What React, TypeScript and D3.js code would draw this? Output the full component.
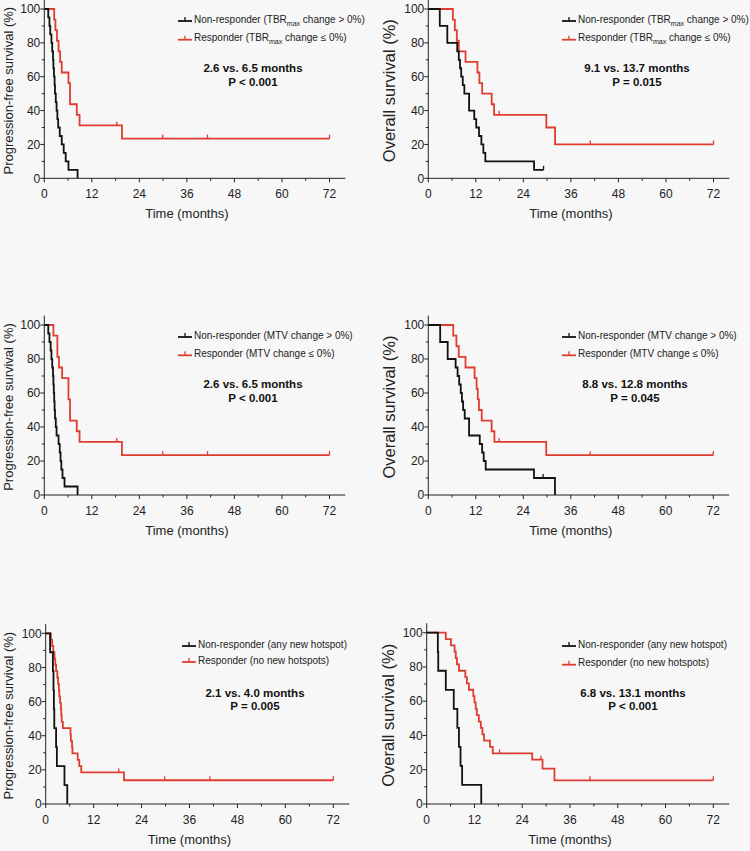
import { scaleLinear, line, curveStepAfter } from 'd3';

// Kaplan-Meier steps: [time in months, survival % after the event]
const pfsTbrNon = [[1.0,95],[1.3,90],[1.5,85],[1.8,80],[2.0,75],[2.2,70],[2.3,65],[2.45,60],[2.6,55],[2.7,50],[2.9,45],[3.1,40],[3.3,35],[3.5,30],[3.9,25],[4.4,20],[4.9,15],[5.4,10],[6.1,5],[8.4,0]];
const pfsTbrResp = [[2.5,93.75],[2.8,87.5],[3.2,81.25],[3.6,75],[4.0,68.75],[4.4,62.5],[6.1,56.25],[6.5,43.75],[8.2,37.5],[8.9,31.25],[19.6,23.44]];
const pfsTbrRespCensor = [18.3, 29.9, 41.2, 72];

const osTbrNon = [[2.9,90],[4.8,80],[7.3,75],[7.7,70],[8.0,65],[8.3,60],[8.7,55],[9.1,50],[10.3,40],[11.6,35],[12.1,30],[12.8,25],[13.4,20],[13.9,15],[14.4,10],[26.7,5]];
const osTbrNonCensor = [29.1];
const osTbrResp = [[6.2,93.75],[6.7,87.5],[7.2,81.25],[7.7,75],[9.4,68.75],[12.4,62.5],[12.9,56.25],[13.6,50],[16.0,43.75],[16.6,37.5],[29.8,30],[32.0,20]];
const osTbrRespCensor = [17.9, 40.9, 72];

const pfsMtvNon = [[1.0,95],[1.3,90],[1.6,85],[1.8,80],[2.0,75],[2.2,70],[2.3,65],[2.4,60],[2.5,55],[2.6,50],[2.7,45],[2.9,40],[3.1,35],[3.6,30],[3.9,25],[4.1,20],[4.3,15],[4.6,10],[5.1,5],[8.4,0]];
const pfsMtvResp = [[2.3,93.75],[3.3,81.25],[3.7,75],[4.5,68.75],[6.1,56.25],[6.5,43.75],[8.2,37.5],[8.9,31.25],[19.6,23.44]];
const pfsMtvRespCensor = [18.3, 29.9, 41.2, 72];

const osMtvNon = [[3.0,90],[4.9,80],[6.9,75],[7.4,70],[7.8,65],[8.2,60],[8.5,55],[8.8,50],[9.2,45],[10.3,35],[13.0,30],[13.6,25],[14.0,20],[14.5,15],[26.7,10],[32.0,0]];
const osMtvNonCensor = [29.0];
const osMtvResp = [[6.3,93.75],[7.1,87.5],[7.7,81.25],[9.4,75],[11.7,68.75],[12.2,62.5],[12.5,56.25],[12.8,50],[13.5,43.75],[16.0,37.5],[16.7,31.25],[29.8,23.44]];
const osMtvRespCensor = [17.9, 40.9, 72];

const pfsHotNon = [[1.1,88.89],[1.8,77.78],[1.95,66.67],[2.05,55.56],[2.15,44.44],[2.6,33.33],[2.8,22.22],[4.7,11.11],[5.4,0]];
const pfsHotResp = [[1.3,96.3],[1.6,92.6],[1.9,88.9],[2.2,85.2],[2.4,81.5],[2.6,77.8],[2.9,74.1],[3.1,70.4],[3.3,66.7],[3.4,63],[3.6,59.3],[3.8,55.6],[3.9,51.9],[4.0,48.1],[4.3,44.4],[6.2,40.7],[6.3,37.0],[6.6,33.3],[6.7,29.6],[8.0,25.9],[8.4,22.2],[8.9,18.5],[19.6,13.9]];
const pfsHotRespCensor = [18.3, 29.8, 41.1, 72];

const osHotNon = [[2.8,88.89],[2.9,77.78],[4.8,66.67],[6.8,55.56],[7.7,44.44],[8.1,33.33],[8.5,22.22],[8.9,11.11],[13.7,0]];
const osHotResp = [[4.8,96.3],[6.1,92.6],[7.0,88.9],[7.3,85.2],[7.6,81.5],[8.1,77.8],[9.7,74.1],[10.1,70.4],[10.6,66.7],[11.7,63.0],[12.0,59.3],[12.3,55.6],[12.6,51.9],[13.1,48.1],[13.6,44.4],[14.0,40.7],[14.4,37.0],[15.9,33.3],[16.6,29.6],[26.5,25.9],[29.1,20.7],[32.1,13.8]];
const osHotRespCensor = [18.3, 28.7, 41, 72];

const xMajor = [0, 12, 24, 36, 48, 60, 72];
const xMinor = [6, 18, 30, 42, 54, 66];
const yMajor = [0, 20, 40, 60, 80, 100];
const yMinor = [10, 30, 50, 70, 90];

const yTitles = ['Progression-free survival (%)', 'Overall survival (%)'];
const legendTbr = [['Non-responder (TBR', 'max', ' change > 0%)'], ['Responder (TBR', 'max', ' change ≤ 0%)']];
const legendMtv = [['Non-responder (MTV change > 0%)'], ['Responder (MTV change ≤ 0%)']];
const legendHot = [['Non-responder (any new hotspot)'], ['Responder (no new hotspots)']];
const notes = [
  ['2.6 vs. 6.5 months', 'P < 0.001'],
  ['9.1 vs. 13.7 months', 'P = 0.015'],
  ['2.6 vs. 6.5 months', 'P < 0.001'],
  ['8.8 vs. 12.8 months', 'P = 0.045'],
  ['2.1 vs. 4.0 months', 'P = 0.005'],
  ['6.8 vs. 13.1 months', 'P < 0.001'],
];

const RED = '#e03c31';
const BLACK = '#111';
const FONT = '"Liberation Sans", Arial, Helvetica, sans-serif';

// layout of each panel (pixels)
const layout = [
  { x0: 44.3, x72: 329.5, yTop: 9, yBot: 178.3, titleX: 8, titleSize: 13, legX: 178, legY: [19, 37.7], noteX: 253, noteY: 68 },
  { x0: 428.3, x72: 713.5, yTop: 9, yBot: 178.3, titleX: 389, titleSize: 16.5, legX: 562, legY: [19, 37.7], noteX: 637, noteY: 68 },
  { x0: 44.3, x72: 329.5, yTop: 325, yBot: 495, titleX: 8, titleSize: 13, legX: 178, legY: [335, 353.3], noteX: 253, noteY: 384 },
  { x0: 428.3, x72: 713.3, yTop: 325, yBot: 495, titleX: 389, titleSize: 16.5, legX: 562, legY: [335, 353.3], noteX: 635, noteY: 384 },
  { x0: 45.7, x72: 333.3, yTop: 633.3, yBot: 804, titleX: 8, titleSize: 13, legX: 182, legY: [644, 660], noteX: 255, noteY: 692.7 },
  { x0: 426.7, x72: 713.3, yTop: 632.7, yBot: 804, titleX: 388, titleSize: 16.5, legX: 562, legY: [644, 662.7], noteX: 633, noteY: 692.7 },
];

type Step = number[];
interface Curve { steps: Step[]; censor: number[]; color: string }

const panels = [
  { title: yTitles[0], legend: legendTbr, note: notes[0], curves: [
    { steps: pfsTbrResp, censor: pfsTbrRespCensor, color: RED },
    { steps: pfsTbrNon, censor: [], color: BLACK }] },
  { title: yTitles[1], legend: legendTbr, note: notes[1], curves: [
    { steps: osTbrResp, censor: osTbrRespCensor, color: RED },
    { steps: osTbrNon, censor: osTbrNonCensor, color: BLACK }] },
  { title: yTitles[0], legend: legendMtv, note: notes[2], curves: [
    { steps: pfsMtvResp, censor: pfsMtvRespCensor, color: RED },
    { steps: pfsMtvNon, censor: [], color: BLACK }] },
  { title: yTitles[1], legend: legendMtv, note: notes[3], curves: [
    { steps: osMtvResp, censor: osMtvRespCensor, color: RED },
    { steps: osMtvNon, censor: osMtvNonCensor, color: BLACK }] },
  { title: yTitles[0], legend: legendHot, note: notes[4], curves: [
    { steps: pfsHotResp, censor: pfsHotRespCensor, color: RED },
    { steps: pfsHotNon, censor: [], color: BLACK }] },
  { title: yTitles[1], legend: legendHot, note: notes[5], curves: [
    { steps: osHotResp, censor: osHotRespCensor, color: RED },
    { steps: osHotNon, censor: [], color: BLACK }] },
];

function survivalAt(steps: Step[], t: number) {
  let s = 100;
  for (const [time, v] of steps) if (time <= t) s = v;
  return s;
}

function LegendText({ parts }: { parts: string[] }) {
  if (parts.length === 1) return <>{parts[0]}</>;
  return (
    <>
      {parts[0]}
      <tspan fontSize={7} dy={3}>{parts[1]}</tspan>
      <tspan dy={-3}>{parts[2]}</tspan>
    </>
  );
}

function Panel({ p, L }: { p: typeof panels[number]; L: typeof layout[number] }) {
  const x = scaleLinear().domain([0, 72]).range([L.x0, L.x72]);
  const y = scaleLinear().domain([0, 100]).range([L.yBot, L.yTop]);
  const km = line<number[]>().x(d => x(d[0])).y(d => y(d[1])).curve(curveStepAfter);

  const paths = p.curves.map((c: Curve) => {
    const last = c.steps[c.steps.length - 1];
    const end = Math.max(last[0], ...c.censor);
    const pts = [[0, 100], ...c.steps, [end, last[1]]];
    return { d: km(pts), color: c.color, censor: c.censor.map(t => [t, survivalAt(c.steps, t)]) };
  });

  const midY = (L.yTop + L.yBot) / 2;
  return (
    <g fontFamily={FONT}>
      {/* curves (responder drawn first, non-responder on top) */}
      {paths.map((c, i) => (
        <g key={i}>
          <path d={c.d ?? ''} fill="none" stroke={c.color} strokeWidth={1.8} />
          {c.censor.map(([t, s], j) => (
            <line key={j} x1={x(t)} x2={x(t)} y1={y(s)} y2={y(s) - 4} stroke={c.color} strokeWidth={1.3} />
          ))}
        </g>
      ))}

      {/* axes */}
      <line x1={x(0)} x2={x(76)} y1={y(0)} y2={y(0)} stroke="#222" strokeWidth={1} />
      <line x1={x(0)} x2={x(0)} y1={y(0)} y2={y(105.5)} stroke="#222" strokeWidth={1} />
      {xMajor.map(t => (
        <g key={t}>
          <line x1={x(t)} x2={x(t)} y1={y(0)} y2={y(0) + 4} stroke="#222" />
          <text x={x(t)} y={y(0) + 19.5} textAnchor="middle" fontSize={12} fill="#222">{t}</text>
        </g>
      ))}
      {xMinor.map(t => (
        <line key={t} x1={x(t)} x2={x(t)} y1={y(0)} y2={y(0) + 2.5} stroke="#222" />
      ))}
      {yMajor.map(v => (
        <g key={v}>
          <line x1={x(0) - 4} x2={x(0)} y1={y(v)} y2={y(v)} stroke="#222" />
          <text x={x(0) - 4} y={y(v)} dy="0.35em" textAnchor="end" fontSize={12} fill="#222">{v}</text>
        </g>
      ))}
      {yMinor.map(v => (
        <line key={v} x1={x(0) - 2.5} x2={x(0)} y1={y(v)} y2={y(v)} stroke="#222" />
      ))}
      <text x={x(36)} y={y(0) + 40} textAnchor="middle" fontSize={13} fill="#222">Time (months)</text>
      <text transform={`translate(${L.titleX},${midY - 3}) rotate(-90)`} dy="0.35em" textAnchor="middle"
        fontSize={L.titleSize} fill="#222">{p.title}</text>

      {/* legend */}
      {[BLACK, RED].map((col, i) => (
        <g key={i}>
          <line x1={L.legX} x2={L.legX + 14} y1={L.legY[i] + 2} y2={L.legY[i] + 2} stroke={col} strokeWidth={1.8} />
          <line x1={L.legX + 7} x2={L.legX + 7} y1={L.legY[i] + 2} y2={L.legY[i] - 2} stroke={col} strokeWidth={1.3} />
          <text x={L.legX + 16} y={L.legY[i]} dy="0.35em" fontSize={10} fill="#222">
            <LegendText parts={p.legend[i]} />
          </text>
        </g>
      ))}

      {/* medians and p value */}
      <text x={L.noteX} y={L.noteY} dy="0.35em" textAnchor="middle" fontSize={11.5} fontWeight="bold" fill="#111">{p.note[0]}</text>
      <text x={L.noteX} y={L.noteY + 13.5} dy="0.35em" textAnchor="middle" fontSize={11.5} fontWeight="bold" fill="#111">{p.note[1]}</text>
    </g>
  );
}

export default function App() {
  return (
    <div style={{ position: 'absolute', left: 0, top: 0, width: 750, height: 851, background: '#f7f7f7' }}>
      <svg width={750} height={851} style={{ display: 'block' }}>
        {panels.map((p, i) => (
          <Panel key={i} p={p} L={layout[i]} />
        ))}
      </svg>
    </div>
  );
}
